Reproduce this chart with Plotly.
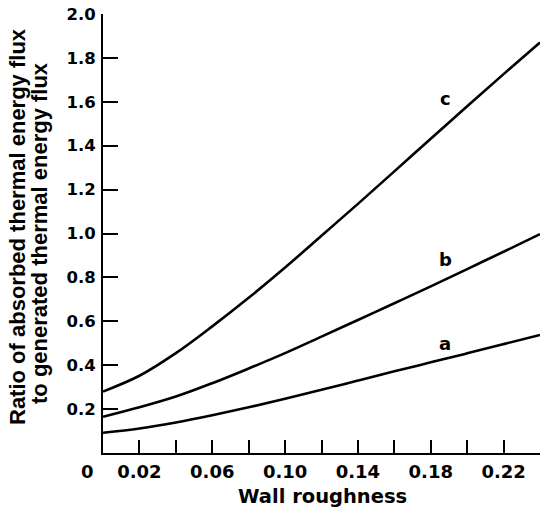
import plotly.graph_objects as go

# ---- data ----
wall_roughness = [0.0, 0.02, 0.04, 0.06, 0.08, 0.10, 0.12, 0.14, 0.16, 0.18, 0.20, 0.22, 0.24]
ratio_a = [0.092, 0.112, 0.139, 0.172, 0.208, 0.247, 0.288, 0.330, 0.372, 0.413, 0.454, 0.496, 0.538]
ratio_b = [0.165, 0.208, 0.257, 0.318, 0.385, 0.455, 0.530, 0.606, 0.682, 0.759, 0.838, 0.917, 0.997]
ratio_c = [0.280, 0.352, 0.455, 0.577, 0.707, 0.845, 0.990, 1.135, 1.283, 1.432, 1.580, 1.726, 1.870]
curve_names = ["a", "b", "c"]
label_x = 0.188
label_y = [0.497, 0.882, 1.616]

x_tickvals = [0.02, 0.04, 0.06, 0.08, 0.10, 0.12, 0.14, 0.16, 0.18, 0.20, 0.22]
x_ticktext = ["0.02", "", "0.06", "", "0.10", "", "0.14", "", "0.18", "", "0.22"]
y_tickvals = [0.2, 0.4, 0.6, 0.8, 1.0, 1.2, 1.4, 1.6, 1.8, 2.0]
y_ticktext = ["0.2", "0.4", "0.6", "0.8", "1.0", "1.2", "1.4", "1.6", "1.8", "2.0"]

W, H = 540, 511
ML, MR, MT, MB = 103, 0, 14, 58
PW, PH = W - ML - MR, H - MT - MB


def px(xp):
    return (xp - ML) / PW


def py(yp):
    return (H - MB - yp) / PH


BOLD = dict(family="DejaVu Sans", weight="bold", color="black")
TITLE_FONT = dict(size=22, family="Liberation Sans", weight="bold", color="black")

fig = go.Figure()
for name, ys in zip(curve_names, [ratio_a, ratio_b, ratio_c]):
    fig.add_trace(go.Scatter(x=wall_roughness, y=ys, mode="lines", name=name,
                             line=dict(color="black", width=2.6, shape="spline", smoothing=1.0),
                             showlegend=False, hoverinfo="skip"))

annotations = []
for name, ly in zip(curve_names, label_y):
    annotations.append(dict(x=label_x, y=ly, xref="x", yref="y", text=name, showarrow=False,
                            font=dict(size=18, **BOLD)))
annotations.append(dict(x=px(87), y=py(471), xref="paper", yref="paper", text="0", showarrow=False,
                        font=dict(size=18, **BOLD), xanchor="center", yanchor="middle"))
annotations.append(dict(x=px(322), y=py(496), xref="paper", yref="paper", text="Wall roughness",
                        showarrow=False, font=dict(size=19.5, **BOLD), xanchor="center", yanchor="middle"))
annotations.append(dict(x=px(18), y=py(227), xref="paper", yref="paper",
                        text="Ratio of absorbed thermal energy flux", textangle=-90, showarrow=False,
                        font=TITLE_FONT, xanchor="center", yanchor="middle"))
annotations.append(dict(x=px(40), y=py(233), xref="paper", yref="paper",
                        text="to generated thermal energy flux", textangle=-90, showarrow=False,
                        font=TITLE_FONT, xanchor="center", yanchor="middle"))

fig.update_layout(
    width=W, height=H,
    margin=dict(l=ML, r=MR, t=MT, b=MB, pad=0),
    paper_bgcolor="white", plot_bgcolor="white",
    annotations=annotations,
    xaxis=dict(range=[0, 0.24], showgrid=False, zeroline=False, showline=True,
               linecolor="black", linewidth=2, ticks="inside", ticklen=13, tickwidth=2,
               tickcolor="black", tickvals=x_tickvals, ticktext=x_ticktext,
               tickfont=dict(size=18, **BOLD), ticklabelstandoff=1),
    yaxis=dict(range=[0, 2.0], showgrid=False, zeroline=False, showline=True,
               linecolor="black", linewidth=2, ticks="inside", ticklen=15, tickwidth=2,
               tickcolor="black", tickvals=y_tickvals, ticktext=y_ticktext,
               tickfont=dict(size=16.5, **BOLD), ticklabelstandoff=2),
)

fig.write_html("out.html")
